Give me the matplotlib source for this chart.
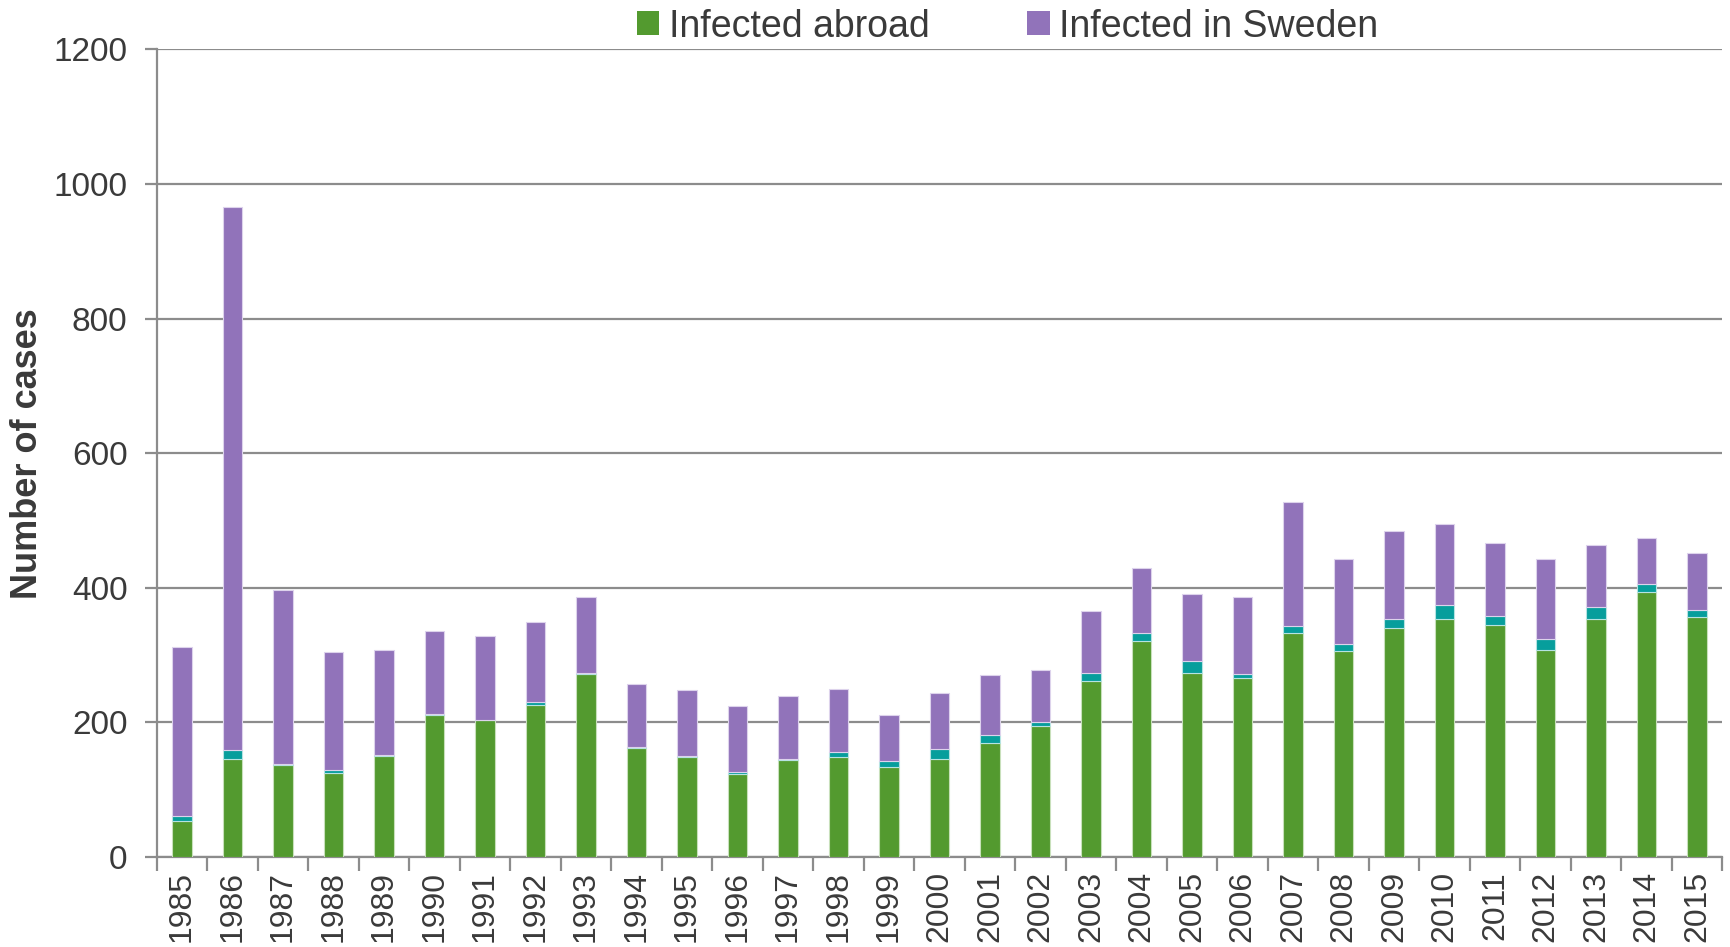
import numpy as np
import matplotlib
matplotlib.use('Agg')
from matplotlib import pyplot as plt
from matplotlib.patches import Patch

plt.rcParams['font.family'] = ['Liberation Sans', 'DejaVu Sans']

# data
years = list(range(1985, 2016))
abroad = [54, 146, 136, 125, 150, 211, 203, 226, 272, 162, 149, 123, 144, 148, 134, 146,
          170, 194, 262, 321, 274, 266, 333, 306, 340, 354, 345, 307, 354, 394, 356]
unknown = [7, 13, 2, 4, 2, 1, 1, 5, 1, 1, 1, 3, 2, 8, 8, 15,
           12, 7, 11, 12, 17, 6, 10, 10, 14, 21, 13, 17, 17, 12, 11]
sweden = [251, 807, 259, 176, 156, 124, 124, 118, 114, 94, 98, 98, 93, 93, 69, 82,
          88, 77, 93, 97, 100, 114, 184, 127, 130, 119, 108, 118, 92, 68, 85]

green = '#539a2f'
teal = '#079e9c'
purple = '#9173ba'
grey = '#8c8c8c'
text_col = '#3a3a3a'

fig = plt.figure(figsize=(17.31, 9.47), dpi=100)
ax = fig.add_axes([0.0905, 0.095, 0.9045, 0.853])

x = np.arange(len(years))
abroad = np.array(abroad)
unknown = np.array(unknown)
sweden = np.array(sweden)
w = 0.38
ax.bar(x, abroad, w, color=green, edgecolor='#c8e0bb', linewidth=0.8, zorder=3)
ax.bar(x, unknown, w, bottom=abroad, color=teal, edgecolor='#b5e3e2', linewidth=0.8, zorder=3)
ax.bar(x, sweden, w, bottom=abroad + unknown, color=purple, edgecolor='#ddd3ec', linewidth=0.8, zorder=3)

ax.set_ylim(0, 1200)
ax.set_xlim(-0.5, len(years) - 0.5)
ax.set_yticks(range(0, 1201, 200))
ax.yaxis.grid(True, color=grey, linewidth=1.6, zorder=0)
ax.tick_params(axis='y', length=9, width=1.6, color=grey, labelsize=24, labelcolor=text_col, pad=12)

ax.set_xticks(x)
ax.set_xticklabels([str(y) for y in years], rotation=90)
ax.tick_params(axis='x', which='major', length=0, labelsize=23, labelcolor=text_col, pad=10)
ax.set_xticks(np.arange(-0.5, len(years)), minor=True)
ax.tick_params(axis='x', which='minor', length=10, width=1.6, color=grey)

for s in ['top', 'right']:
    ax.spines[s].set_visible(False)
for s in ['left', 'bottom']:
    ax.spines[s].set_color(grey)
    ax.spines[s].set_linewidth(1.6)

ax.set_ylabel('Number of cases', fontsize=26, fontweight='bold', color=text_col)
ax.yaxis.set_label_coords(-0.071, 0.5)

handles = [Patch(facecolor=green, label='Infected abroad'),
           Patch(facecolor=purple, label='Infected in Sweden')]
fig.legend(handles=handles, loc='center', bbox_to_anchor=(0.582, 0.972), ncol=2, frameon=False,
           prop={'size': 27},
           handlelength=0.6, handleheight=0.6, handletextpad=0.25, columnspacing=2.6,
           labelcolor=text_col)

fig.savefig('out.png', dpi=100)
